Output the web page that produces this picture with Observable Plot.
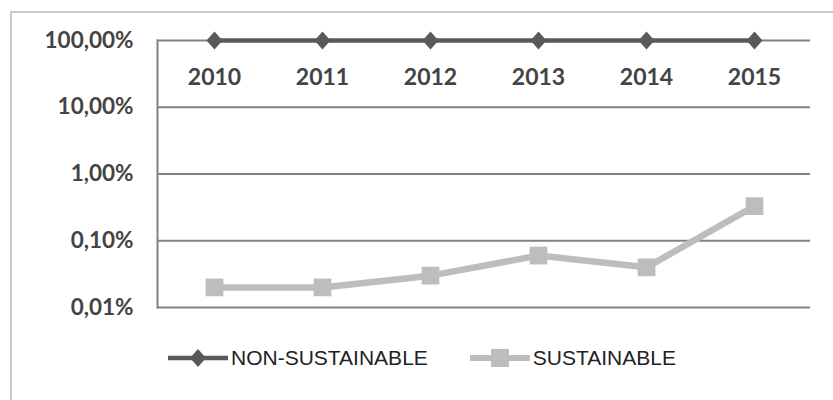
<!DOCTYPE html>
<html>
<head>
<meta charset="utf-8">
<script src="https://cdn.jsdelivr.net/npm/d3@7"></script>
<script src="https://cdn.jsdelivr.net/npm/@observablehq/plot@0.6"></script>
<style>
  body { margin: 0; background: #fff; width: 833px; height: 400px; overflow: hidden; position: relative; }
  #frame { position: absolute; left: 10px; top: 11px; width: 900px; height: 500px; border: 2px solid #c9c9c9; }
  #chart { position: absolute; left: 0; top: 0; }
  #legend { position: absolute; left: 168px; top: 346px; display: flex; align-items: center;
            font-family: "Liberation Sans", Arial, sans-serif; font-size: 21px; color: #222; }
  .item { display: flex; align-items: center; height: 24px; }
  .item svg { margin-right: 3px; }
</style>
</head>
<body>
<div id="frame"></div>
<div id="chart"></div>
<div id="legend"></div>
<script>
// Share of the portfolio, in percent, by year
const years = ["2010", "2011", "2012", "2013", "2014", "2015"];
const nonSustainable = [100, 100, 100, 100, 100, 100];
const sustainable = [0.02, 0.02, 0.03, 0.06, 0.04, 0.33];
const yTicks = [0.01, 0.1, 1, 10, 100];
const seriesNames = ["NON-SUSTAINABLE", "SUSTAINABLE"];

const darkGray = "#595959";
const lightGray = "#bdbdbd";
const gridGray = "#828282";

const rows = (vals, series) => years.map((year, i) => ({year, value: vals[i], series}));
const nonRows = rows(nonSustainable, seriesNames[0]);
const susRows = rows(sustainable, seriesNames[1]);

// Diamond a little taller than wide
const diamond = {
  draw(ctx) {
    ctx.moveTo(0, -9); ctx.lineTo(8, 0); ctx.lineTo(0, 9); ctx.lineTo(-8, 0); ctx.closePath();
  }
};

const fmt = v => d3.format(".2f")(v).replace(".", ",") + "%";
const font = "Lato, 'Open Sans', sans-serif";

const chart = Plot.plot({
  width: 833,
  height: 330,
  marginTop: 40,
  marginBottom: 23,
  marginLeft: 157,
  marginRight: 23,
  style: {background: "transparent", overflow: "visible"},
  x: {type: "point", domain: years, padding: 0.5, axis: null},
  y: {type: "log", domain: [0.01, 100], axis: null},
  marks: [
    Plot.ruleY(yTicks, {stroke: gridGray, strokeWidth: 2}),
    Plot.frame({anchor: "left", stroke: gridGray, strokeWidth: 2}),
    Plot.axisY({
      ticks: yTicks, tickFormat: fmt, tickSize: 0, tickPadding: 24, label: null,
      fontSize: 22.5, fontFamily: font, fontWeight: "bold", fill: "#444"
    }),
    // year labels hang just under the 100% gridline
    Plot.text(years, {
      x: d => d, frameAnchor: "top", lineAnchor: "middle", dy: 37, text: d => d,
      fontSize: 23, fontFamily: font, fontWeight: "bold", fill: "#444"
    }),
    Plot.line(susRows, {x: "year", y: "value", stroke: lightGray, strokeWidth: 6.5}),
    Plot.dot(susRows, {x: "year", y: "value", symbol: "square", r: 10, fill: lightGray}),
    Plot.line(nonRows, {x: "year", y: "value", stroke: darkGray, strokeWidth: 4.5}),
    Plot.dot(nonRows, {x: "year", y: "value", symbol: diamond, fill: darkGray})
  ]
});
document.getElementById("chart").append(chart);

// Legend: a line-and-marker swatch for each series
const legend = d3.select("#legend");
const swatches = [
  {name: seriesNames[0], color: darkGray, width: 4.5, shape: "diamond"},
  {name: seriesNames[1], color: lightGray, width: 6, shape: "square"}
];
swatches.forEach((s, i) => {
  const item = legend.append("div").attr("class", "item")
    .style("margin-left", i === 0 ? "0px" : "42px");
  const svg = item.append("svg").attr("width", 60).attr("height", 24);
  svg.append("line").attr("x1", 0).attr("x2", 60).attr("y1", 12).attr("y2", 12)
    .attr("stroke", s.color).attr("stroke-width", s.width).attr("stroke-linecap", "round");
  if (s.shape === "diamond") {
    svg.append("path").attr("d", "M30,3L38,12L30,21L22,12Z").attr("fill", s.color);
  } else {
    svg.append("rect").attr("x", 21).attr("y", 3).attr("width", 18).attr("height", 18).attr("fill", s.color);
  }
  item.append("span").text(s.name);
});
</script>
</body>
</html>
